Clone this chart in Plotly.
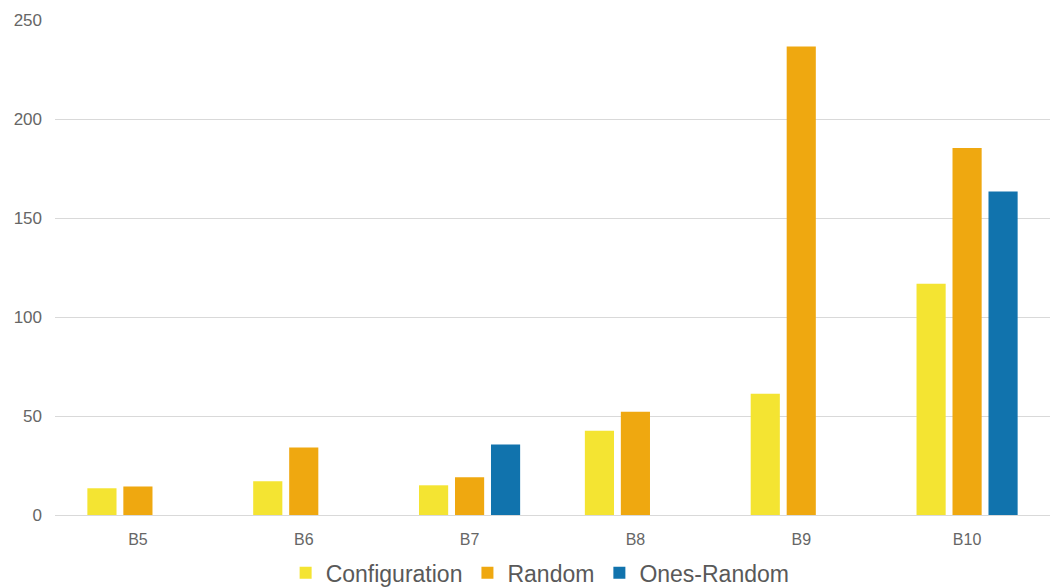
import plotly.graph_objects as go

# Categories and series values
categories = ["B5", "B6", "B7", "B8", "B9", "B10"]
configuration = [13.5, 17.0, 15.0, 42.5, 61.3, 116.8]
random_vals = [14.4, 34.1, 19.1, 52.2, 236.6, 185.4]
ones_random = [None, None, 35.6, None, None, 163.4]

series = [
    ("Configuration", configuration, "#F4E432"),
    ("Random", random_vals, "#EFA810"),
    ("Ones-Random", ones_random, "#1173AD"),
]

fig = go.Figure()
for name, vals, color in series:
    fig.add_trace(go.Bar(
        name=name,
        x=categories,
        y=vals,
        marker=dict(color=color, line=dict(width=0)),
    ))

font_family = "Arial, Liberation Sans, sans-serif"

fig.update_layout(
    barmode="group",
    bargap=0.349,
    bargroupgap=0.19,
    width=1057,
    height=588,
    margin=dict(l=55, r=7, t=20, b=73, autoexpand=False),
    paper_bgcolor="white",
    plot_bgcolor="white",
    font=dict(family=font_family, color="#666666"),
    showlegend=True,
    legend=dict(
        orientation="h",
        x=0.511,
        xanchor="center",
        xref="container",
        y=0.026,
        yanchor="middle",
        yref="container",
        font=dict(size=23, color="#595959"),
        itemwidth=30,
    ),
    xaxis=dict(
        showgrid=False,
        showline=True,
        linecolor="#D9D9D9",
        linewidth=1,
        ticks="",
        ticklabelstandoff=10,
        tickfont=dict(size=16, color="#666666"),
    ),
    yaxis=dict(
        range=[0, 250],
        dtick=50,
        showgrid=True,
        gridcolor="#D9D9D9",
        gridwidth=1,
        zeroline=False,
        showline=False,
        ticks="",
        ticklabelstandoff=12,
        tickfont=dict(size=17, color="#666666"),
    ),
)

fig.write_html("out.html")
